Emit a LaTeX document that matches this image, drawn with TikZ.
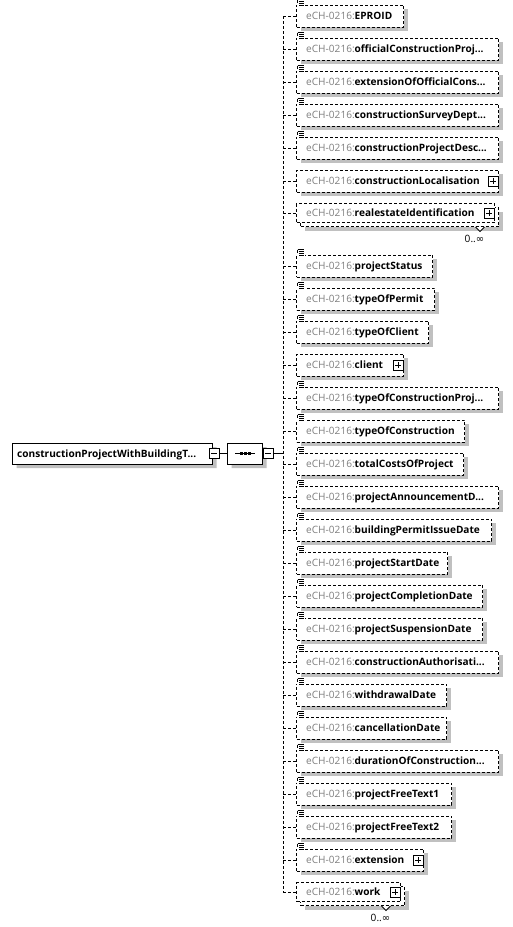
\documentclass[tikz,border=0pt]{standalone}
\usepackage{fontspec}
\setmainfont{Open Sans}
\newfontfamily\dejavu{DejaVu Sans}
\usetikzlibrary{shadows,shapes.misc}
\definecolor{nsgray}{RGB}{128,128,128}
\definecolor{shadowc}{RGB}{192,192,192}
\newcommand\elfont{\fontsize{10.1}{12}\selectfont}
\newcommand\tdots{...}
\tikzset{
  conn/.style={line width=1pt, dash pattern=on 3pt off 2pt},
  solidconn/.style={line width=1pt},
  myshadow/.style={drop shadow={shadow xshift=4pt, shadow yshift=-4pt, fill=shadowc, opacity=1}},
  elbox/.style={draw, line width=1pt, dash pattern=on 3pt off 2pt, fill=white,
    minimum height=22pt, inner sep=0pt, myshadow},
  elboxfront/.style={draw, line width=1pt, dash pattern=on 3pt off 2pt, fill=white,
    minimum height=19pt, inner sep=0pt},
  rootbox/.style={chamfered rectangle, chamfered rectangle corners={north west,south west},
    chamfered rectangle xsep=4pt, chamfered rectangle ysep=4pt,
    draw, line width=1pt, fill=white, inner sep=0pt, myshadow},
  seqbox/.style={chamfered rectangle, chamfered rectangle xsep=6pt, chamfered rectangle ysep=6pt,
    draw, line width=1pt, fill=white, inner sep=0pt, myshadow},
  btnminus/.style={draw, line width=0.9pt, fill=white, minimum size=10pt, inner sep=0pt,
    path picture={\draw[line width=0.9pt] ([xshift=2pt]path picture bounding box.west) -- ([xshift=-2pt]path picture bounding box.east);}},
  btnplus/.style={draw, line width=0.9pt, fill=white, minimum size=10pt, inner sep=0pt,
    path picture={\draw[line width=0.9pt] ([xshift=2pt]path picture bounding box.west) -- ([xshift=-2pt]path picture bounding box.east)
      ([yshift=-2pt]path picture bounding box.north) -- ([yshift=2pt]path picture bounding box.south);}},
  txt/.style={anchor=base west, inner sep=0pt, font=\elfont},
  occ/.style={anchor=north east, inner sep=0pt, font=\elfont},
  docline/.style={line width=0.8pt}
}
\begin{document}
\begin{tikzpicture}[x=1pt,y=-1pt]
\useasboundingbox[fill=white] (0,0) rectangle (512,927);
% root element
\node[rootbox, minimum width=200pt, minimum height=21pt, anchor=west] (root) at (12,453.5) {};
\node[txt] (roottxt) at ([xshift=5pt,yshift=-3.7pt]root.west) {\textbf{constructionProjectWithBuildingT\tdots}};
\node[btnminus] (rootbtn) at ([xshift=1pt]root.east) {};
% sequence compositor
\node[seqbox, minimum width=35pt, minimum height=21pt, anchor=west] (seq) at (227,453.5) {};
\node[btnminus] (seqbtn) at ([xshift=5pt]seq.east) {};
\draw[solidconn] (rootbtn.east) -- (seq.west);
\draw[line width=1.2pt] ([xshift=8pt]seq.west) -- ([xshift=-8pt]seq.east);
\foreach \dx in {-4,0,4} \fill ([xshift=\dx pt]seq.center) ++(-1.5,-1.5) rectangle ++(3,3);
\coordinate (vx) at (283,453.5);
\draw[solidconn] (seqbtn.east) -- (vx);
% children
\foreach \i/\yy/\rr/\dc/\pl/\ml/\nm in {
1/16/403/1/0/0/EPROID,
2/49/498/1/0/0/officialConstructionProj\tdots,
3/82/498/1/0/0/extensionOfOfficialCons\tdots,
4/115/498/1/0/0/constructionSurveyDept\tdots,
5/148/498/1/0/0/constructionProjectDesc\tdots,
6/181/498/0/1/0/constructionLocalisation,
7/214/494/0/1/1/realestateIdentification,
8/266/432/1/0/0/projectStatus,
9/299/434/1/0/0/typeOfPermit,
10/332/428/1/0/0/typeOfClient,
11/365/403/0/1/0/client,
12/398/498/1/0/0/typeOfConstructionProj\tdots,
13/431/464/1/0/0/typeOfConstruction,
14/464/463/1/0/0/totalCostsOfProject,
15/497/498/1/0/0/projectAnnouncementD\tdots,
16/530/491/1/0/0/buildingPermitIssueDate,
17/563/447/1/0/0/projectStartDate,
18/596/482/1/0/0/projectCompletionDate,
19/629/482/1/0/0/projectSuspensionDate,
20/662/498/1/0/0/constructionAuthorisati\tdots,
21/695/446/1/0/0/withdrawalDate,
22/728/446/1/0/0/cancellationDate,
23/761/498/1/0/0/durationOfConstruction\tdots,
24/794/451/1/0/0/projectFreeText1,
25/827/451/1/0/0/projectFreeText2,
26/860/423/1/1/0/extension,
27/893/400/0/1/1/work}
{
  \pgfmathsetmacro\ww{\rr-296}
  \ifnum\ml=1
    \node[elbox, minimum height=19pt, minimum width={\ww pt}, anchor=north west] (k\i) at (300,\yy-7) {};
    \node[elboxfront, minimum width={\ww pt}, anchor=north west] (b\i) at (296,\yy-11) {};
  \else
    \node[elbox, minimum width={\ww pt}, anchor=west] (b\i) at (296,\yy) {};
  \fi
  \draw[conn] (vx |- b\i.west) -- (b\i.west);
  \node[txt] (t\i) at ([xshift=10pt,yshift=-3.7pt]b\i.west) {\textcolor{nsgray}{eCH-0216:}\textbf{\nm}};
  \ifnum\pl=1
    \node[btnplus] (p\i) at ([xshift=-6pt]b\i.east) {};
  \fi
  \ifnum\ml=1
    \filldraw[fill=white, line width=0.9pt] (p\i.center |- k\i.south) ++(-13.5,0) -- ++(4.5,4.5) -- ++(4.5,-4.5);
    \node[occ] (m\i) at ([xshift=-4.5pt,yshift=-7.5pt]p\i.center |- k\i.south) {0..{\dejavu ∞}};
  \fi
  \ifnum\dc=1
    \begin{scope}[shift={(b\i.north west)}]
      \fill[white] (0.5,-5.5) rectangle (8.5,3.5);
      \draw[docline] (1.5,-5) -- (1.5,-2);
      \draw[docline] (1.5,-5) -- (7.5,-5) (3,-3) -- (7.5,-3) (3,-1) -- (7.5,-1) (3,1) -- (7.5,1);
    \end{scope}
  \fi
}
\draw[conn] (vx |- b1.west) -- (vx |- b27.west);
\end{tikzpicture}
\end{document}
